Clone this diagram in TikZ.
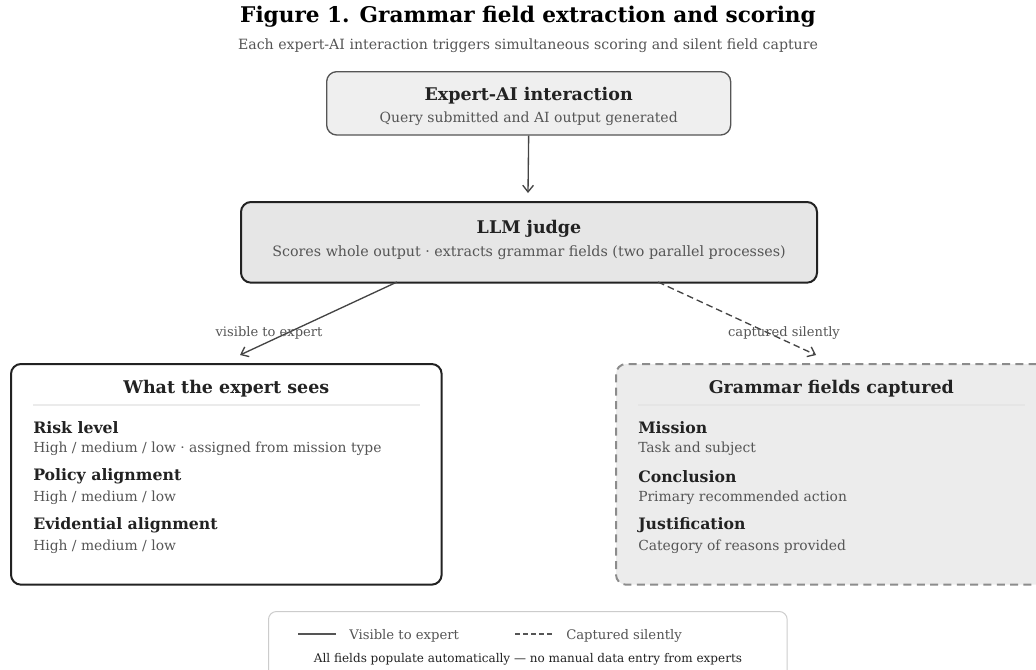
\documentclass[tikz,border=0pt]{standalone}
\usepackage{fontspec}
\setmainfont{DejaVu Serif}
\usetikzlibrary{positioning,arrows.meta,calc}
\definecolor{ink}{HTML}{222222}
\definecolor{subink}{HTML}{555555}
\definecolor{edge}{HTML}{444444}
\definecolor{softfill}{HTML}{EFEFEF}
\definecolor{judgefill}{HTML}{E6E6E6}
\definecolor{silentfill}{HTML}{ECECEC}

\begin{document}
\begin{tikzpicture}[x=0.75pt, y=-0.75pt,
    box/.style={rectangle, rounded corners=7.5pt, anchor=north west, inner sep=0pt},
    head/.style={font=\bfseries\fontsize{13.1}{15}\selectfont, text=ink, inner sep=0pt},
    sub/.style={font=\fontsize{10.5}{12}\selectfont, text=subink, inner sep=0pt},
    item/.style={font=\bfseries\fontsize{11.8}{14}\selectfont, text=ink, anchor=west, inner sep=0pt},
    itemsub/.style={font=\fontsize{10.4}{12}\selectfont, text=subink, anchor=west, inner sep=0pt},
    flowlabel/.style={font=\fontsize{9.8}{11}\selectfont, text=subink, inner sep=0pt},
    arrow/.style={-{Straight Barb[length=5pt, width=8pt]}, draw=edge, line width=1pt}
]
    \clip (0,0) rectangle (1036,669);
    \useasboundingbox (0,0) rectangle (1036,669);

    % Title
    \node[font=\bfseries\fontsize{16.2}{19}\selectfont, text=black, inner sep=0pt] (title) at (528,17) {Figure 1. Grammar field extraction and scoring};
    \node[font=\fontsize{10.6}{12}\selectfont, text=subink, inner sep=0pt] (subtitle) at (528,46) {Each expert-AI interaction triggers simultaneous scoring and silent field capture};

    % Nodes
    \node[box, draw=subink, fill=softfill, line width=1pt, minimum width=303pt, minimum height=47.5pt] (interaction) at (326,71) {};
    \node[head] (interactionhead) at ($(interaction.north)+(0,25)$) {Expert-AI interaction};
    \node[sub] (interactionsub) at ($(interaction.north)+(0,48)$) {Query submitted and AI output generated};

    \node[box, draw=ink, fill=judgefill, line width=1.5pt, minimum width=432pt, minimum height=60.5pt] (judge) at (240,201) {};
    \node[head] (judgehead) at ($(judge.north)+(0,28)$) {LLM judge};
    \node[sub, font=\fontsize{10.7}{12}\selectfont] (judgesub) at ($(judge.north)+(0,52)$) {Scores whole output · extracts grammar fields (two parallel processes)};

    \node[box, draw=ink, fill=white, line width=1.5pt, minimum width=323pt, minimum height=165.5pt] (sees) at (10,363) {};
    \node[head] (seeshead) at ($(sees.north)+(0,26)$) {What the expert sees};
    \draw[draw=black!8, line width=1pt] ($(sees.north west)+(23,42)$) coordinate (seesrulel) -- ($(sees.north east)+(-23,42)$) coordinate (seesruler);
    \node[item] (risk) at ($(sees.north west)+(23,64.5)$) {Risk level};
    \node[itemsub] (risksub) at ($(sees.north west)+(23,85.5)$) {High / medium / low · assigned from mission type};
    \node[item] (policy) at ($(sees.north west)+(23,113.5)$) {Policy alignment};
    \node[itemsub] (policysub) at ($(sees.north west)+(23,134.5)$) {High / medium / low};
    \node[item] (evidence) at ($(sees.north west)+(23,162.5)$) {Evidential alignment};
    \node[itemsub] (evidencesub) at ($(sees.north west)+(23,183.5)$) {High / medium / low};

    \node[box, draw=black!45, fill=silentfill, line width=1.5pt, dash pattern=on 6pt off 4pt, minimum width=323pt, minimum height=165.5pt] (fields) at (615,363) {};
    \node[head] (fieldshead) at ($(fields.north)+(0,26)$) {Grammar fields captured};
    \draw[draw=black!10, line width=1pt] ($(fields.north west)+(23,42)$) coordinate (fieldsrulel) -- ($(fields.north east)+(-23,42)$) coordinate (fieldsruler);
    \node[item] (mission) at ($(fields.north west)+(23,64.5)$) {Mission};
    \node[itemsub] (missionsub) at ($(fields.north west)+(23,85.5)$) {Task and subject};
    \node[item] (conclusion) at ($(fields.north west)+(23,113.5)$) {Conclusion};
    \node[itemsub] (conclusionsub) at ($(fields.north west)+(23,134.5)$) {Primary recommended action};
    \node[item] (justification) at ($(fields.north west)+(23,162.5)$) {Justification};
    \node[itemsub] (justificationsub) at ($(fields.north west)+(23,183.5)$) {Category of reasons provided};

    % Arrows
    \coordinate (judgein) at (528,193);
    \draw[arrow] (interaction.south) -- (judgein);
    \coordinate (seesout) at (397,282);
    \coordinate (seesin) at (240,355);
    \draw[arrow] (seesout) -- (seesin);
    \coordinate (fieldsout) at (658,282);
    \coordinate (fieldsin) at (816,355);
    \draw[arrow, dash pattern=on 5pt off 3pt] (fieldsout) -- (fieldsin);
    \node[flowlabel] (visiblelabel) at (269,333) {visible to expert};
    \node[flowlabel] (silentlabel) at (784,333) {captured silently};

    % Legend
    \node[box, draw=black!20, fill=white, line width=0.75pt, rounded corners=6pt, minimum width=389pt, minimum height=60pt] (legend) at (268,611) {};
    \coordinate (solidstart) at (298,634);
    \coordinate (solidend) at (336,634);
    \draw[draw=subink, line width=1.5pt] (solidstart) -- (solidend);
    \node[flowlabel, anchor=west, font=\fontsize{9.9}{11}\selectfont] (solidkey) at (349,635.5) {Visible to expert};
    \coordinate (dashstart) at (515,634);
    \coordinate (dashend) at (553,634);
    \draw[draw=subink, line width=1.5pt, dash pattern=on 4pt off 2pt] (dashstart) -- (dashend);
    \node[flowlabel, anchor=west, font=\fontsize{9.9}{11}\selectfont] (dashkey) at (566,635.5) {Captured silently};
    \node[font=\fontsize{9}{10}\selectfont, text=ink, inner sep=0pt] (legendnote) at (528,659.5) {All fields populate automatically — no manual data entry from experts};
\end{tikzpicture}
\end{document}
